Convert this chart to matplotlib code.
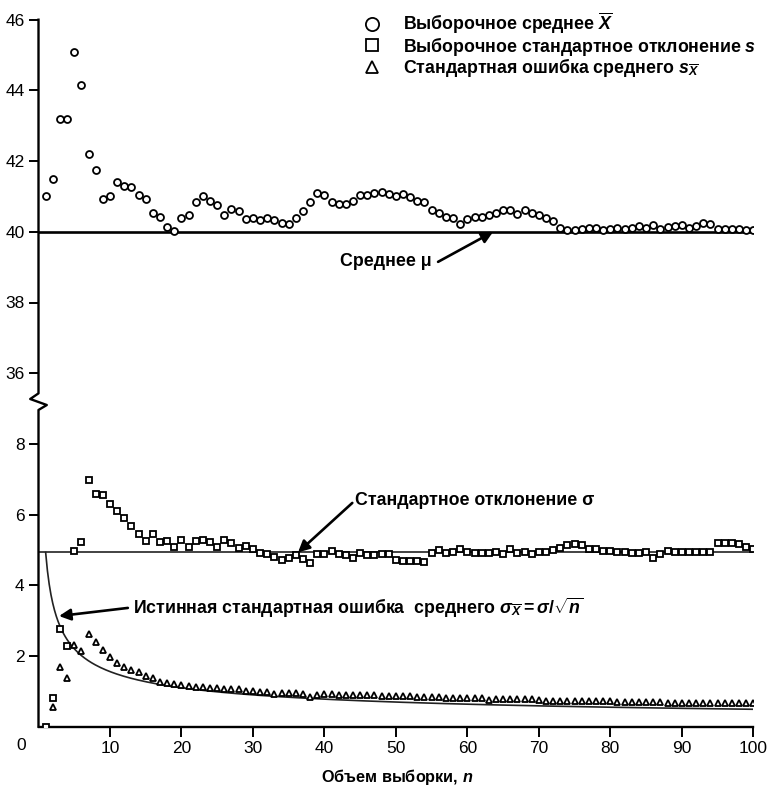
import numpy as np
import matplotlib
matplotlib.use("Agg")
import matplotlib.pyplot as plt

plt.rcParams['font.family'] = ['Liberation Sans', 'DejaVu Sans']
plt.rcParams['mathtext.fontset'] = 'custom'
plt.rcParams['mathtext.rm'] = 'Liberation Sans:bold'
plt.rcParams['mathtext.it'] = 'Liberation Sans:italic:bold'
plt.rcParams['mathtext.bf'] = 'Liberation Sans:bold'

# sample size n = 1..100
n_mean = np.arange(1, 101)
sample_mean = [41.0, 41.5, 43.2, 43.2, 45.1, 44.15, 42.2, 41.75, 40.92, 41.02,
               41.4, 41.3, 41.27, 41.05, 40.92, 40.52, 40.42, 40.13, 40.03, 40.4,
               40.48, 40.83, 41.02, 40.88, 40.76, 40.48, 40.65, 40.58, 40.35, 40.4,
               40.34, 40.4, 40.33, 40.26, 40.23, 40.38, 40.59, 40.85, 41.11, 41.04,
               40.85, 40.79, 40.79, 40.86, 41.03, 41.03, 41.09, 41.13, 41.06, 41.01,
               41.08, 40.99, 40.87, 40.83, 40.61, 40.52, 40.41, 40.4, 40.23, 40.36,
               40.43, 40.42, 40.47, 40.54, 40.61, 40.61, 40.5, 40.61, 40.54, 40.47,
               40.38, 40.31, 40.12, 40.05, 40.05, 40.08, 40.1, 40.1, 40.06, 40.09,
               40.12, 40.08, 40.12, 40.17, 40.12, 40.19, 40.09, 40.14, 40.17, 40.19,
               40.12, 40.17, 40.26, 40.22, 40.09, 40.08, 40.08, 40.08, 40.05, 40.05]

n_sd = np.arange(1, 101)
sample_sd = [0.0, 0.8, 2.75, 2.28, 4.98, 5.23, 6.98, 6.59, 6.55, 6.3,
             6.11, 5.9, 5.68, 5.45, 5.26, 5.44, 5.23, 5.26, 5.09, 5.28,
             5.07, 5.26, 5.28, 5.22, 5.09, 5.28, 5.19, 5.05, 5.11, 5.02,
             4.9, 4.88, 4.81, 4.72, 4.76, 4.86, 4.74, 4.62, 4.88, 4.88,
             4.97, 4.88, 4.86, 4.76, 4.92, 4.86, 4.86, 4.88, 4.88, 4.72,
             4.70, 4.70, 4.70, 4.67, 4.92, 5.0, 4.9, 4.93, 5.02, 4.93,
             4.9, 4.9, 4.92, 4.93, 4.89, 5.02, 4.9, 4.93, 4.89, 4.93,
             4.95, 5.0, 5.06, 5.14, 5.17, 5.14, 5.04, 5.02, 4.98, 4.97,
             4.93, 4.93, 4.9, 4.9, 4.95, 4.76, 4.89, 4.97, 4.93, 4.95,
             4.95, 4.95, 4.95, 4.93, 5.21, 5.21, 5.19, 5.17, 5.09, 5.04]

n_se = np.arange(2, 101)
sample_se = [0.55, 1.70, 1.37, 2.31, 2.14, 2.61, 2.40, 2.17, 1.96,
             1.81, 1.68, 1.60, 1.54, 1.43, 1.39, 1.27, 1.23, 1.21, 1.18,
             1.15, 1.13, 1.13, 1.09, 1.09, 1.08, 1.08, 1.06, 1.02, 1.02,
             0.99, 0.99, 0.92, 0.94, 0.94, 0.94, 0.93, 0.85, 0.91, 0.92,
             0.92, 0.91, 0.91, 0.90, 0.90, 0.89, 0.89, 0.88, 0.88, 0.87,
             0.86, 0.86, 0.84, 0.84, 0.83, 0.83, 0.82, 0.82, 0.81, 0.81,
             0.80, 0.80, 0.76, 0.78, 0.78, 0.78, 0.77, 0.77, 0.77, 0.76,
             0.72, 0.74, 0.74, 0.74, 0.73, 0.73, 0.73, 0.72, 0.72, 0.72,
             0.69, 0.70, 0.70, 0.70, 0.69, 0.69, 0.69, 0.68, 0.68, 0.68,
             0.68, 0.67, 0.67, 0.67, 0.67, 0.66, 0.66, 0.66, 0.66, 0.66]

mu = 40.0
sigma = 4.93

# the upper block (36..46) is drawn shifted down so that 36 sits just above 8
shift = 26
ytick_pos = [2, 4, 6, 8, 10, 12, 14, 16, 18, 20]
ytick_lab = ['2', '4', '6', '8', '36', '38', '40', '42', '44', '46']
xticks = [10, 20, 30, 40, 50, 60, 70, 80, 90, 100]

fig = plt.figure(figsize=(7.8, 7.88), dpi=100)
ax = fig.add_axes([38.5 / 780, 1 - 726.7 / 788, 714.8 / 780, 707 / 788])
ax.set_xlim(0, 100)
ax.set_ylim(0, 20)

# reference lines
ax.plot([0, 100], [mu - shift, mu - shift], 'k-', lw=1.9, zorder=1)
ax.plot([0, 100], [sigma, sigma], '-', color='#222222', lw=1.2, zorder=1)
nn = np.linspace(1, 100, 400)
ax.plot(nn, sigma / np.sqrt(nn), '-', color='#222222', lw=1.2, zorder=1)

mk = dict(mfc='white', mec='black', ls='none', mew=1.3, zorder=3)
ax.plot(n_mean, np.array(sample_mean) - shift, marker='o', ms=5, label=r'Выборочное среднее $\overline{X}$', **mk)
ax.plot(n_sd, sample_sd, marker='s', ms=4.6, label=r'Выборочное стандартное отклонение $s$', **mk)
ax.plot(n_se, sample_se, marker='^', ms=4.8, label=r'Стандартная ошибка среднего $s_{\overline{X}}$', **mk)

# axes styling
for s in ['top', 'right', 'left']:
    ax.spines[s].set_visible(False)
ax.spines['bottom'].set_linewidth(1.7)
ax.set_xticks(xticks)
ax.set_yticks(ytick_pos)
ax.set_yticklabels(ytick_lab)
ax.tick_params(direction='out', length=7, width=1.4, labelsize=12.5, pad=3)

# left spine with the break mark
dx = 8.3 / 714.8
ax.plot([0, 0, dx, -dx, 0, 0], [0, 8.96, 9.1, 9.27, 9.43, 20], 'k-', lw=1.7,
        transform=ax.get_yaxis_transform(), clip_on=False, zorder=4)

fs = 12.8
arr = dict(arrowstyle='-|>', lw=1.9, color='k', mutation_scale=17, shrinkA=0, shrinkB=0)
ax.annotate('', xy=(63.6, mu - shift), xytext=(55.9, 13.15), arrowprops=arr)
ax.text(55.0, 13.15, 'Среднее μ', ha='right', va='center', fontsize=fs, fontweight='bold')

ax.annotate('', xy=(36.3, sigma), xytext=(43.9, 6.33), arrowprops=arr)
ax.text(44.3, 6.41, 'Стандартное отклонение σ', ha='left', va='center', fontsize=fs, fontweight='bold')

ax.annotate('', xy=(2.87, 3.13), xytext=(12.5, 3.36), arrowprops=arr)
ax.text(13.2, 3.36, r'Истинная стандартная ошибка  среднего $\sigma_{\overline{X}} = \sigma/\sqrt{n}$',
        ha='left', va='center', fontsize=fs, fontweight='bold')

leg = ax.legend(loc='upper left', bbox_to_anchor=(356 / 780, 1 - 2 / 788), bbox_transform=fig.transFigure,
                frameon=False, handlelength=0.8, handletextpad=1.35, labelspacing=-0.1,
                prop={'size': fs, 'weight': 'bold'}, markerscale=1.9, borderpad=0)

fig.text(20.7 / 780, 1 - 745 / 788, '0', ha='center', va='center', fontsize=12.5)
fig.text(397 / 780, 1 - 777 / 788, r'Объем выборки, $n$', ha='center', va='center',
         fontsize=11.7, fontweight='bold')

fig.savefig('out.png', dpi=100, facecolor='w')
